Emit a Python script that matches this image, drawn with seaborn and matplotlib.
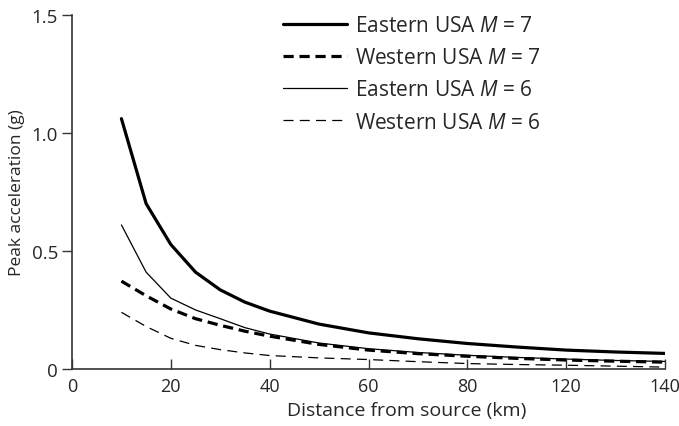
import matplotlib
matplotlib.use("Agg")
import matplotlib.pyplot as plt
import seaborn as sns
import pandas as pd

sns.set_style("ticks")
plt.rcParams['font.family'] = ['Open Sans', 'DejaVu Sans']
plt.rcParams['mathtext.fontset'] = 'custom'
plt.rcParams['mathtext.rm'] = 'Open Sans'
plt.rcParams['mathtext.it'] = 'Open Sans:italic'

# distance positions on the drawn axis
distance = [10, 15, 20, 25, 30, 35, 40, 50, 60, 70, 80, 90, 100, 110, 120]
eastern_m7 = [1.06, 0.70, 0.527, 0.41, 0.335, 0.283, 0.245, 0.190, 0.153, 0.128, 0.108, 0.093, 0.080, 0.072, 0.066]
western_m7 = [0.372, 0.31, 0.254, 0.213, 0.185, 0.160, 0.139, 0.104, 0.080, 0.065, 0.054, 0.045, 0.038, 0.033, 0.029]
eastern_m6 = [0.61, 0.41, 0.30, 0.25, 0.213, 0.175, 0.148, 0.110, 0.086, 0.070, 0.058, 0.049, 0.042, 0.036, 0.032]
western_m6 = [0.24, 0.18, 0.13, 0.10, 0.082, 0.068, 0.057, 0.047, 0.040, 0.031, 0.023, 0.019, 0.016, 0.012, 0.008]

series_names = ["Eastern USA $M$ = 7", "Western USA $M$ = 7",
                "Eastern USA $M$ = 6", "Western USA $M$ = 6"]
series_values = [eastern_m7, western_m7, eastern_m6, western_m6]

xtick_pos = [0, 20, 40, 60, 80, 100, 120]
xtick_labels = ["0", "20", "40", "60", "80", "120", "140"]
ytick_pos = [0, 0.5, 1.0, 1.5]
ytick_labels = ["0", "0.5", "1.0", "1.5"]

styles = [
    dict(lw=2.3, ls="-"),
    dict(lw=2.3, ls=(0, (3.2, 1.8))),
    dict(lw=0.9, ls="-"),
    dict(lw=0.9, ls=(0, (8, 5))),
]

fig = plt.figure(figsize=(6.79, 4.27), dpi=100)
ax = fig.add_axes([72/679, 1 - 370/427, (665-72)/679, (370-15.7)/427])

for name, vals, st in zip(series_names, series_values, styles):
    df = pd.DataFrame({"d": distance, "a": vals})
    sns.lineplot(data=df, x="d", y="a", ax=ax, color="black",
                 linewidth=st["lw"], linestyle=st["ls"], label=name)

ax.set_xlim(0, 120)
ax.set_ylim(0, 1.5)
ax.set_xticks(xtick_pos)
ax.set_xticklabels(xtick_labels)
ax.set_yticks(ytick_pos)
ax.set_yticklabels(ytick_labels)
ax.tick_params(axis="x", direction="in", length=7, width=1, labelsize=13, pad=6, color="#333333")
ax.tick_params(axis="y", direction="out", length=7, width=1, labelsize=13.5, pad=3, color="#333333")
for s in ["top", "right"]:
    ax.spines[s].set_visible(False)
for s in ["left", "bottom"]:
    ax.spines[s].set_linewidth(1.2)
    ax.spines[s].set_color("#333333")

ax.set_xlabel("Distance from source (km)", fontsize=14, va="center")
ax.xaxis.set_label_coords((407 - 72) / 593, -(411 - 370) / 354.3)
ax.set_ylabel("Peak acceleration (g)", fontsize=12.5, labelpad=5)

leg = ax.legend(loc="upper left", bbox_to_anchor=(0.355, 0.998), frameon=False,
                fontsize=15, handlelength=3.1, handletextpad=0.4, labelspacing=0.53,
                borderaxespad=0, borderpad=0)

fig.savefig("out.png", dpi=100)
